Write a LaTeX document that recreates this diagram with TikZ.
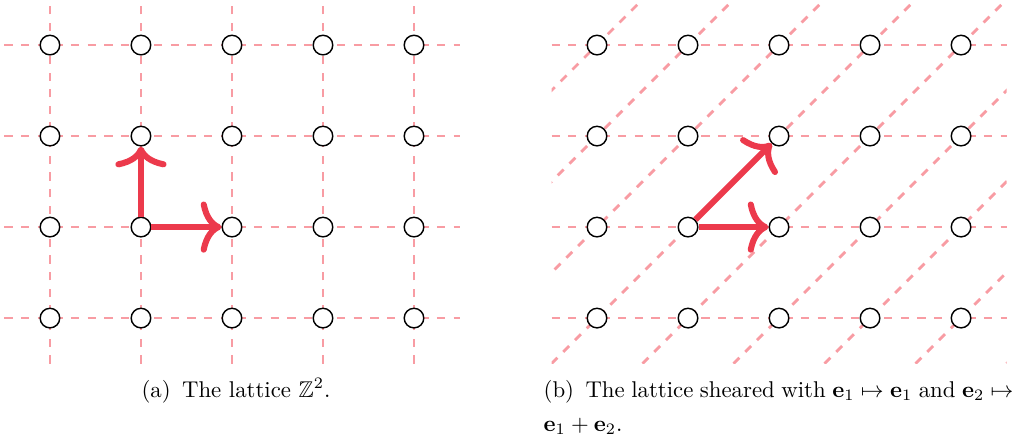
\documentclass[tikz,border=0pt]{standalone}
\usepackage{amssymb}
\usetikzlibrary{arrows.meta}
\definecolor{gridpink}{HTML}{F89CA3}
\definecolor{arrowred}{HTML}{EC3A4C}
\tikzset{
  gridline/.style={gridpink, line width=0.85pt, dash pattern=on 2.6pt off 2.6pt},
  latpt/.style={circle, draw=black, fill=white, line width=0.45pt, minimum size=0.215cm, inner sep=0pt},
  vecarrow/.style={arrowred, line width=1.9pt, -{To[length=6.5pt,width=16pt,round]}},
  captext/.style={inner sep=0pt}
}
\newcommand{\capscale}[1]{\scalebox{0.713}{#1}}
\begin{document}
\begin{tikzpicture}
\useasboundingbox (-0.549,-1.352) rectangle (10.703,3.495);
% left panel grid
\foreach \y in {0,...,3} \draw[gridline] (-0.5,\y) -- (4.5,\y);
\foreach \x in {0,...,4} \draw[gridline] (\x,-0.5) -- (\x,3.5);
% right panel grid
\begin{scope}[xshift=6.011cm]
  \foreach \y in {0,...,3} \draw[gridline] (-0.5,\y) -- (4.5,\y);
  \begin{scope}
    \clip (-0.5,-0.5) rectangle (4.5,3.5);
    \foreach \k in {-4,...,5} \draw[gridline] (\k-0.5,-0.5) -- (\k+3.5,3.5);
  \end{scope}
\end{scope}
% lattice points
\foreach \x in {0,...,4} {
  \foreach \y in {0,...,3} {
    \node[latpt] (a\x\y) at (\x,\y) {};
    \node[latpt] (b\x\y) at (\x+6.011,\y) {};
  }
}
% vectors
\draw[vecarrow] (a11) -- (a21);
\draw[vecarrow] (a11) -- (a12);
\draw[vecarrow] (b11) -- (b21);
\draw[vecarrow] (b11) -- (b22);
% captions
\node[captext, anchor=base] (capa) at (2.044,-0.868) {\capscale{(a)\enspace The lattice $\mathbb{Z}^2$.}};
\node[captext, anchor=base west] (capb1) at (5.418,-0.868) {\capscale{\hbox to 206pt{(b)\enspace The lattice sheared with $\mathbf{e}_1\mapsto\mathbf{e}_1$ and $\mathbf{e}_2\mapsto$}}};
\node[captext, anchor=base west] (capb2) at (5.418,-1.242) {\capscale{$\mathbf{e}_1+\mathbf{e}_2$.}};
\end{tikzpicture}
\end{document}
